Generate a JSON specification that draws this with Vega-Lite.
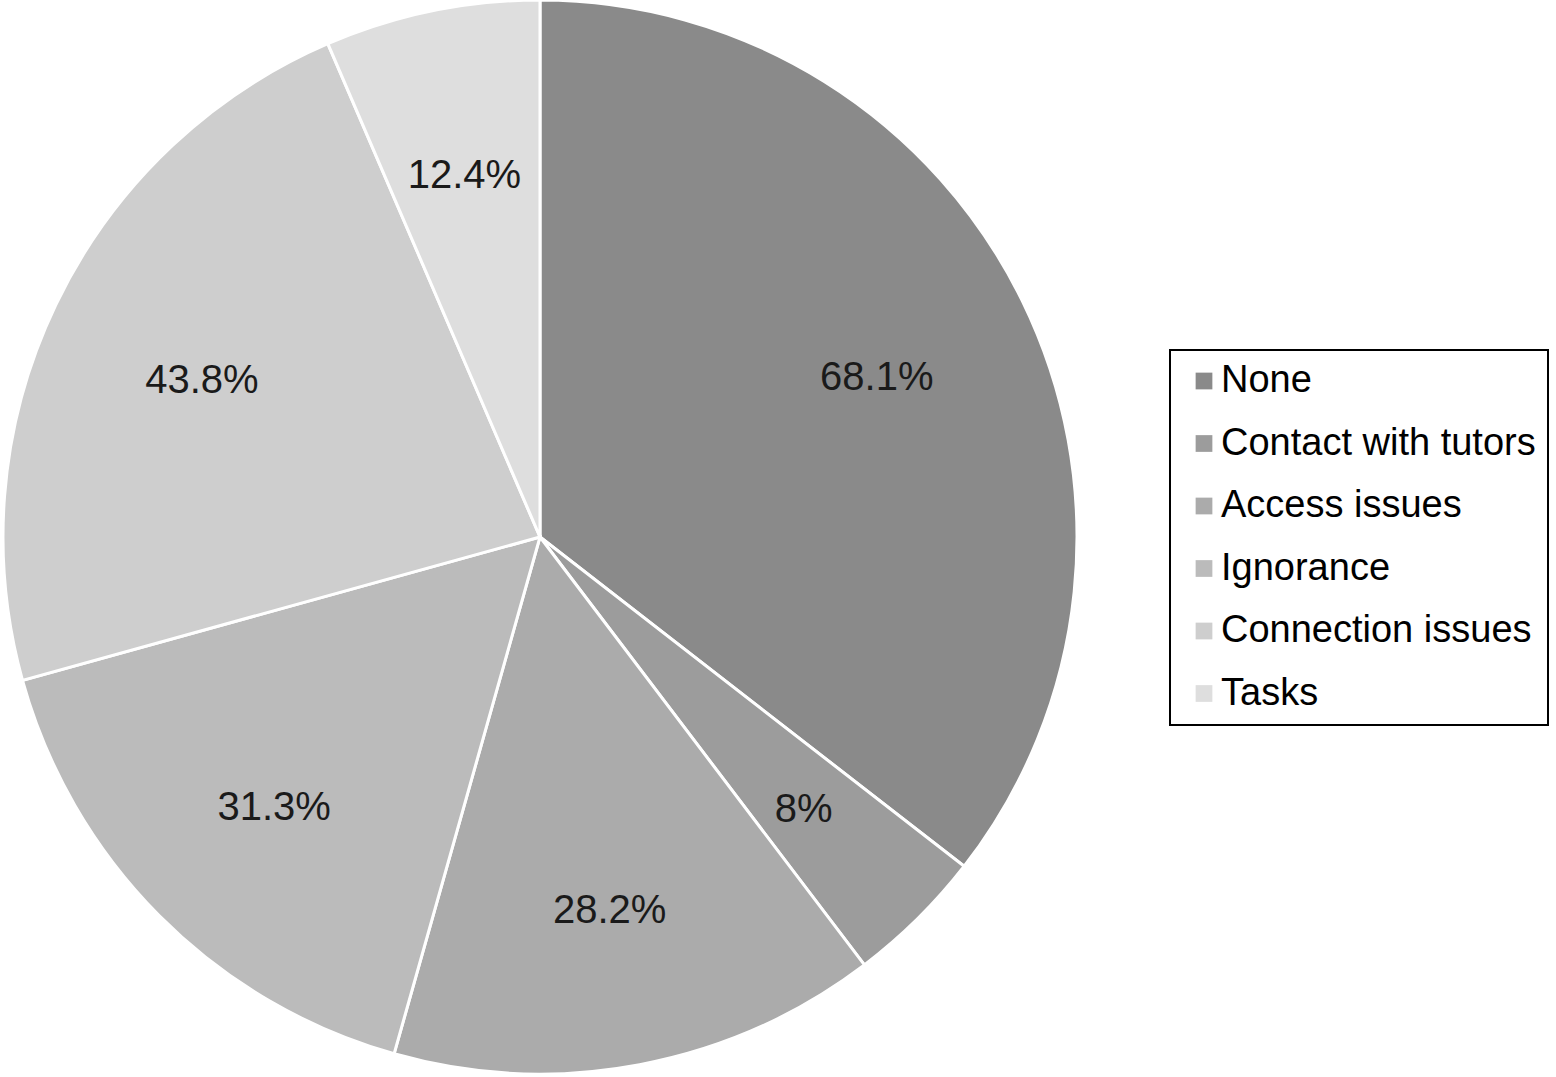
{
  "$schema": "https://vega.github.io/schema/vega-lite/v6.json",
  "width": 1080,
  "height": 1074,
  "autosize": {"type": "none"},
  "padding": {"left": 0, "top": 0, "right": 476, "bottom": 3},
  "background": "white",
  "config": {"view": {"stroke": null}, "legend": {"strokeWidth": 2}},
  "data": {"values": [
    {"cat": "None", "value": 68.1, "label": "68.1%", "k": 1},
    {"cat": "Contact with tutors", "value": 8, "label": "8%", "k": 2},
    {"cat": "Access issues", "value": 28.2, "label": "28.2%", "k": 3},
    {"cat": "Ignorance", "value": 31.3, "label": "31.3%", "k": 4},
    {"cat": "Connection issues", "value": 43.8, "label": "43.8%", "k": 5},
    {"cat": "Tasks", "value": 12.4, "label": "12.4%", "k": 6}
  ]},
  "encoding": {
    "theta": {"field": "value", "type": "quantitative", "stack": true},
    "order": {"field": "k", "type": "quantitative"}
  },
  "layer": [
    {
      "mark": {"type": "arc", "outerRadius": 537, "stroke": "white", "strokeWidth": 3},
      "encoding": {
        "color": {
          "field": "cat", "type": "nominal",
          "scale": {
            "domain": ["None", "Contact with tutors", "Access issues", "Ignorance", "Connection issues", "Tasks"],
            "range": ["#8a8a8a", "#9c9c9c", "#ababab", "#bbbbbb", "#cecece", "#dedede"]
          },
          "legend": {
            "title": null,
            "orient": "none",
            "legendX": 1170,
            "legendY": 350,
            "symbolType": "square",
            "symbolSize": 280,
            "symbolStrokeWidth": 0,
            "symbolOffset": 3,
            "labelFont": "Liberation Sans",
            "labelFontSize": 38,
            "labelColor": "black",
            "labelOffset": -2,
            "labelLimit": 500,
            "rowPadding": 24.5,
            "padding": 12,
            "strokeColor": "black",
            "fillColor": "white"
          }
        }
      }
    },
    {
      "mark": {"type": "text", "radius": 375, "dy": 6, "font": "Liberation Sans", "fontSize": 40, "fill": "#1a1a1a"},
      "encoding": {"text": {"field": "label"}}
    }
  ]
}
